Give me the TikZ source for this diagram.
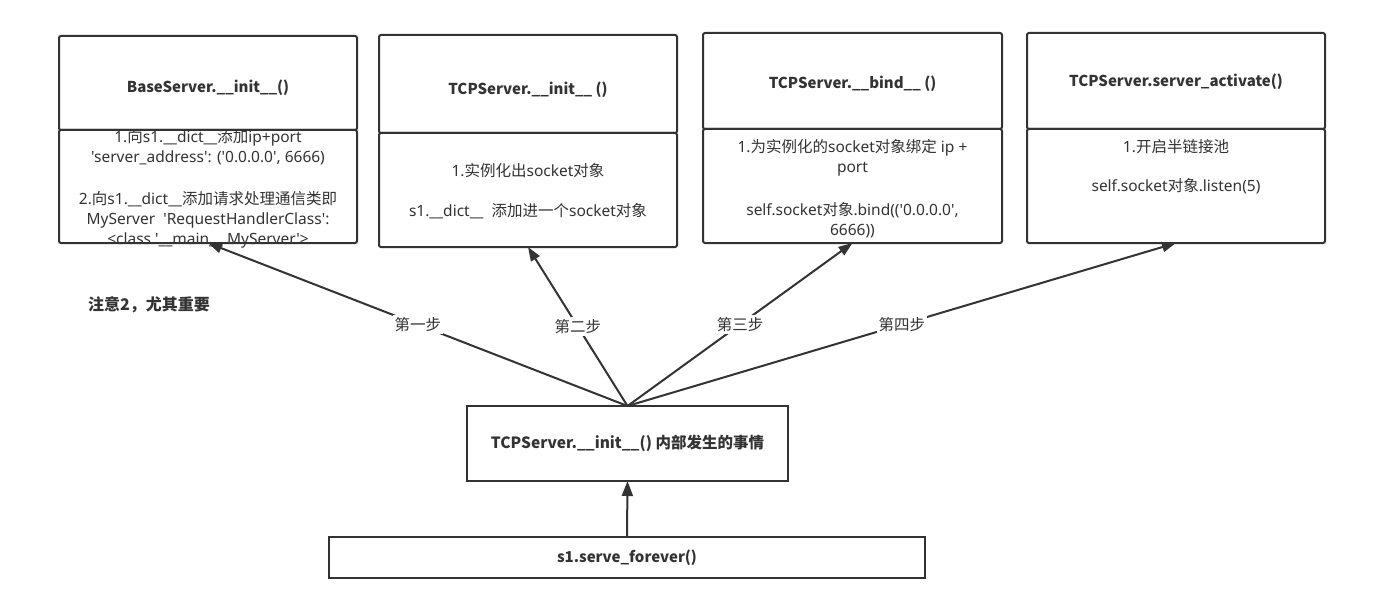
\documentclass[tikz,border=0pt]{standalone}
\usepackage{fontspec}
\newfontfamily\yh{Noto Sans CJK SC}
\newfontfamily\cj{Noto Sans CJK SC}
\newfontfamily\lt{Noto Sans}
\newcommand\C[1]{{\cj #1}}
\usetikzlibrary{arrows.meta}
\definecolor{ln}{HTML}{333333}
\begin{document}
\begin{tikzpicture}[x=1pt,y=-1pt,
  box/.style={draw=ln, line width=2pt, fill=white, inner sep=0pt, outer sep=0pt, rounded corners=2pt},
  ttl/.style={font=\yh\fontsize{15}{19}\selectfont\bfseries, text=ln, inner sep=0pt},
  body/.style={font=\lt\fontsize{15.5}{20}\selectfont, text=ln, align=center, anchor=north, inner sep=0pt},
  arr/.style={draw=ln, line width=2pt, -{Triangle[length=14pt,width=10pt]}},
  lbl/.style={fill=white, font=\cj\fontsize{15.5}{18}\selectfont, text=ln, inner sep=2pt}
]
\useasboundingbox (0,0) rectangle (1377,607);

% box 1
\node[box, minimum width=298pt, minimum height=94pt] (t1) at (208,83) {};
\node[box, minimum width=298pt, minimum height=113pt] (b1) at (208,186.5) {};
\node[ttl] (t1txt) at (208,88) {BaseServer.\_\_init\_\_()};
\node[body] (b1txt) at (208,129.5) {1.\C{向}s1.\_\_dict\_\_\C{添加}ip+port\\'server\_address': ('0.0.0.0', 6666)\\[22pt]2.\C{向}s1.\_\_dict\_\_\C{添加请求处理通信类即}\\MyServer\ \ 'RequestHandlerClass':\\<class '\_\_main\_\_.MyServer'>};

% box 2
\node[box, minimum width=298pt, minimum height=98pt] (t2) at (528,84) {};
\node[box, minimum width=298pt, minimum height=114pt] (b2) at (528,190) {};
\node[ttl] (t2txt) at (528,90) {TCPServer.\_\_init\_\_ ()};
\node[body] (b2txt) at (528,163) {1.\C{实例化出}socket\C{对象}\\[20pt]s1.\_\_dict\_\_\ \ \C{添加进一个}socket\C{对象}};

% box 3
\node[box, minimum width=299pt, minimum height=96pt] (t3) at (852.5,81) {};
\node[box, minimum width=299pt, minimum height=114pt] (b3) at (852.5,186) {};
\node[ttl] (t3txt) at (852.5,84) {TCPServer.\_\_bind\_\_ ()};
\node[body] (b3txt) at (852.5,139) {1.\C{为实例化的}socket\C{对象绑定} ip +\\port\\[23pt]self.socket\C{对象}.bind(('0.0.0.0',\\6666))};

% box 4
\node[box, minimum width=298pt, minimum height=96pt] (t4) at (1176,81) {};
\node[box, minimum width=298pt, minimum height=114pt] (b4) at (1176,186) {};
\node[ttl] (t4txt) at (1176,82) {TCPServer.server\_activate()};
\node[body] (b4txt) at (1176,139) {1.\C{开启半链接池}\\[19pt]self.socket\C{对象}.listen(5)};

% note
\node[ttl, font=\yh\fontsize{16}{18}\selectfont\bfseries, anchor=west] (note) at (88,305) {注意2，尤其重要};

% center box
\node[box, rounded corners=0pt, minimum width=321pt, minimum height=75pt] (c) at (627.5,443.5) {};
\node[ttl, font=\yh\fontsize{15.5}{19}\selectfont\bfseries] (ctxt) at (627.5,443) {TCPServer.\_\_init\_\_() 内部发生的事情};

% bottom box
\node[box, rounded corners=0pt, minimum width=596pt, minimum height=41pt] (s) at (627,557.5) {};
\node[ttl] (stxt) at (627,558) {s1.serve\_forever()};

% arrows
\draw[arr] (c.north) -- node[lbl, pos=0.5] (l1) {第一步} (b1.south);
\draw[arr] (c.north) -- node[lbl, pos=0.5] (l2) {第二步} (b2.south);
\draw[arr] (c.north) -- node[lbl, pos=0.5] (l3) {第三步} (b3.south);
\draw[arr] (c.north) -- node[lbl, pos=0.5] (l4) {第四步} (b4.south);
\draw[arr, -{Triangle[length=15pt,width=11pt]}] (s.north) -- (c.south);
\end{tikzpicture}
\end{document}
